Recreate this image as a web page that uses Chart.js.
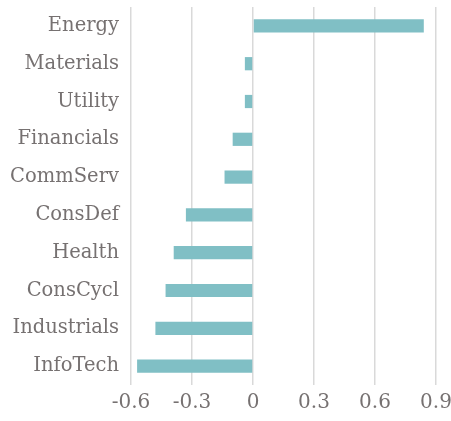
<!DOCTYPE html>
<html>
<head>
<meta charset="utf-8">
<script src="https://cdn.jsdelivr.net/npm/chart.js@4"></script>
<style>
  html, body { margin: 0; padding: 0; background: #fff; }
  #wrap { width: 451px; height: 421px; }
</style>
</head>
<body>
<div id="wrap"><canvas id="grafico"></canvas></div>
<script>
const sectores = ["Energy", "Materials", "Utility", "Financials", "CommServ", "ConsDef", "Health", "ConsCycl", "Industrials", "InfoTech"];
const valores = [0.84, -0.04, -0.04, -0.10, -0.14, -0.33, -0.39, -0.43, -0.48, -0.57];
const ticks_x = [-0.6, -0.3, 0, 0.3, 0.6, 0.9];

const ctx = document.getElementById("grafico").getContext("2d");
new Chart(ctx, {
  type: "bar",
  data: {
    labels: sectores,
    datasets: [
      {
        data: valores,
        backgroundColor: "rgb(128, 191, 197)",
        barPercentage: 0.35,
        categoryPercentage: 1,
      },
    ],
  },
  options: {
    indexAxis: "y",
    responsive: true,
    maintainAspectRatio: false,
    animation: false,
    layout: { padding: { top: 7, right: 15, left: 0, bottom: 0 } },
    plugins: {
      legend: { display: false },
      tooltip: { enabled: false },
    },
    scales: {
      x: {
        min: -0.6,
        max: 0.9,
        afterBuildTicks: (axis) => {
          axis.ticks = ticks_x.map((v) => ({ value: v }));
        },
        afterFit: (axis) => {
          axis.height = 36;
          axis.paddingLeft = 0;
          axis.paddingRight = 0;
        },
        ticks: {
          color: "#767171",
          font: { family: "DejaVu Serif", size: 20 },
          padding: 6,
          maxRotation: 0,
          callback: (value) => String(Math.round(value * 10) / 10),
        },
        grid: { color: "#d9d9d9", lineWidth: 1.5, drawTicks: false },
        border: { display: false },
      },
      y: {
        afterFit: (axis) => {
          axis.width = 131;
          axis.paddingTop = 0;
          axis.paddingBottom = 0;
        },
        ticks: {
          color: "#767171",
          font: { family: "DejaVu Serif", size: 19.5 },
          padding: 4,
        },
        grid: { display: false, drawTicks: true },
        border: { display: false },
      },
    },
  },
});
</script>
</body>
</html>
